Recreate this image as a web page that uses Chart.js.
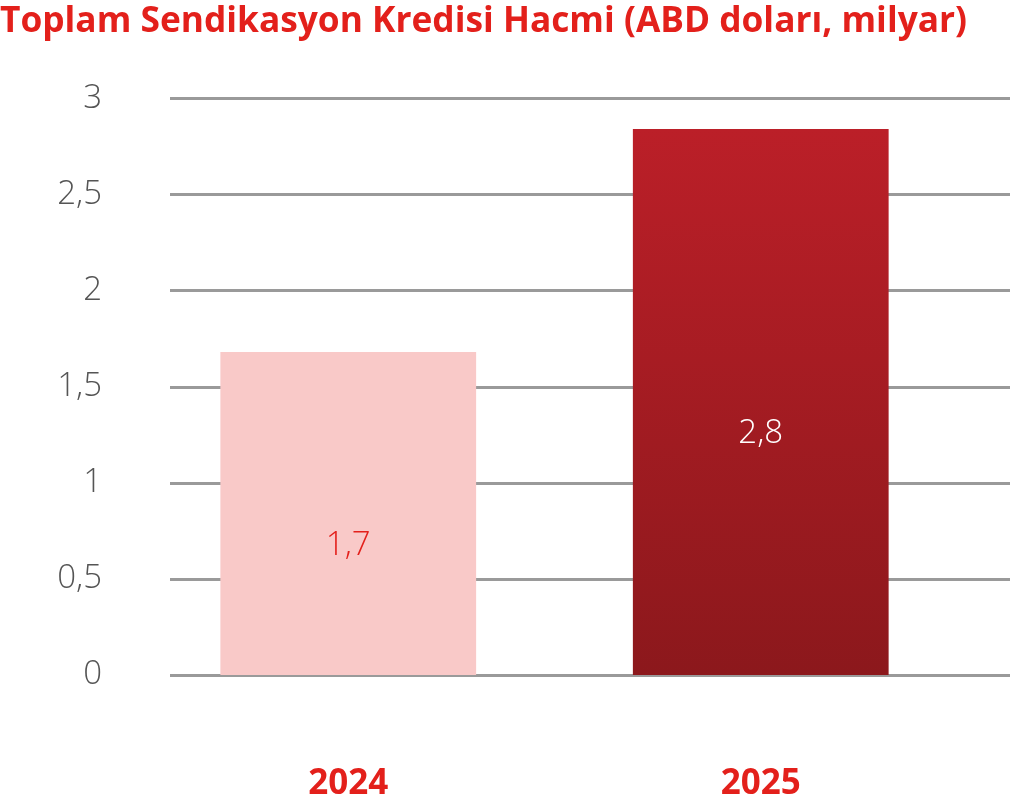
<!DOCTYPE html>
<html>
<head>
<meta charset="utf-8">
<script src="https://cdn.jsdelivr.net/npm/chart.js@4"></script>
<style>
  body { margin: 0; background: #fff; }
</style>
</head>
<body>
<canvas id="grafico" width="1012" height="797"></canvas>
<script>
// Toplam sendikasyon kredisi hacmi
const years = ['2024', '2025'];
const volume = [1.68, 2.84];
const valueLabels = ['1,7', '2,8'];
const yTicks = [0, 0.5, 1, 1.5, 2, 2.5, 3];

const red = '#e3201b';

let ctx = document.getElementById("grafico").getContext("2d");

// gridlines wider than the bar area
const wideGrid = {
    id: 'wideGrid',
    beforeDatasetsDraw(chart) {
        const c = chart.ctx, y = chart.scales.y;
        c.save();
        c.strokeStyle = '#9a9a9a';
        c.lineWidth = 3;
        yTicks.forEach(v => {
            const py = Math.round(y.getPixelForValue(v)) + 0.5;
            c.beginPath();
            c.moveTo(170, py);
            c.lineTo(1010, py);
            c.stroke();
        });
        c.restore();
    }
};

const barValues = {
    id: 'barValues',
    afterDatasetsDraw(chart) {
        const c = chart.ctx;
        const meta = chart.getDatasetMeta(0);
        c.save();
        c.font = '300 33px "Open Sans"';
        c.textAlign = 'center';
        c.textBaseline = 'middle';
        meta.data.forEach((bar, i) => {
            c.fillStyle = i === 0 ? red : '#ffffff';
            c.fillText(valueLabels[i], bar.x, (bar.y + bar.base) / 2 + 32);
        });
        c.restore();
    }
};

function gradiente(context) {
    const area = context.chart.chartArea;
    if (!area) return '#a81e24';
    const g = context.chart.ctx.createLinearGradient(0, context.chart.scales.y.getPixelForValue(volume[1]), 0, area.bottom);
    g.addColorStop(0, '#bb1f28');
    g.addColorStop(1, '#8c181c');
    return g;
}

var chart = new Chart(ctx, {
    type: "bar",
    data: {
        labels: years,
        datasets: [
            {
                data: volume,
                backgroundColor: (context) => context.dataIndex === 0 ? '#f9c9c8' : gradiente(context),
                barPercentage: 0.62,
                categoryPercentage: 1
            }
        ]
    },
    options: {
        responsive: false,
        devicePixelRatio: 1,
        animation: false,
        layout: { padding: { top: 0, right: 45, bottom: 0, left: 0 } },
        plugins: {
            legend: { display: false },
            tooltip: { enabled: false },
            title: {
                display: true,
                text: 'Toplam Sendikasyon Kredisi Hacmi (ABD doları, milyar)',
                align: 'start',
                color: red,
                font: { family: 'Open Sans', size: 36, weight: 'bold' },
                padding: { top: 0, bottom: 55 }
            }
        },
        scales: {
            x: {
                afterFit(scale) { scale.height = 122; },
                grid: { display: false },
                border: { display: false },
                ticks: {
                    color: red,
                    padding: 80,
                    font: { family: 'Open Sans', size: 35, weight: 'bold' }
                }
            },
            y: {
                min: 0,
                max: 3,
                afterFit(scale) { scale.width = 142; },
                afterBuildTicks(scale) { scale.ticks = yTicks.map(v => ({ value: v })); },
                grid: { display: false },
                border: { display: false },
                ticks: {
                    color: '#555555',
                    padding: 32,
                    font: { family: 'Open Sans', size: 33, weight: '300' },
                    callback: (v) => String(v).replace('.', ',')
                }
            }
        }
    },
    plugins: [wideGrid, barValues]
});
</script>
</body>
</html>
